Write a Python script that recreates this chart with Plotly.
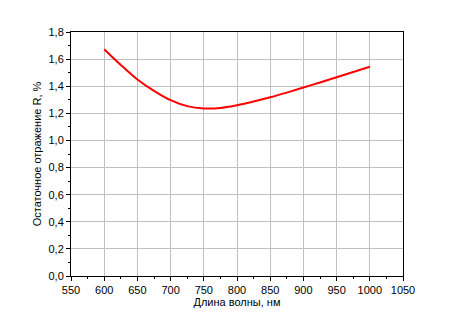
import plotly.graph_objects as go

wavelength = [600, 625, 650, 675, 700, 725, 750, 775, 800, 825, 850, 875, 900, 925, 950, 975, 1000]
reflectance = [1.673, 1.557, 1.450, 1.366, 1.297, 1.253, 1.236, 1.240, 1.260, 1.287, 1.318, 1.353, 1.390, 1.428, 1.466, 1.505, 1.544]

FONT = "Liberation Sans, Arial"

fig = go.Figure()
fig.add_trace(go.Scatter(x=wavelength, y=reflectance, mode="lines",
                         line=dict(color="#ff0000", width=2, shape="spline", smoothing=1.0),
                         showlegend=False))

axis_common = dict(showline=True, linecolor="black", linewidth=1, mirror=True,
                   ticks="outside", ticklen=4, tickcolor="black", automargin=False,
                   showgrid=True, gridcolor="#c0c0c0", gridwidth=1, zeroline=False,
                   tickfont=dict(family=FONT, size=11, color="black"))

fig.update_xaxes(range=[550, 1050], dtick=50, tick0=550,
                 minor=dict(dtick=25, ticks="outside", ticklen=2, tickcolor="black", showgrid=False),
                 title=dict(text="Длина волны, нм", font=dict(family=FONT, size=11, color="black"), standoff=2),
                 **axis_common)
fig.update_yaxes(range=[0, 1.8], dtick=0.2, tick0=0, tickformat=".1f",
                 minor=dict(dtick=0.1, ticks="outside", ticklen=2, tickcolor="black", showgrid=False),
                 title=dict(text="Остаточное отражение R, %", font=dict(family=FONT, size=11, color="black"), standoff=4),
                 **axis_common)

fig.update_layout(width=442, height=322, separators=",.",
                  margin=dict(l=63, r=47, t=24, b=54),
                  plot_bgcolor="white", paper_bgcolor="white")

fig.write_html("out.html")
